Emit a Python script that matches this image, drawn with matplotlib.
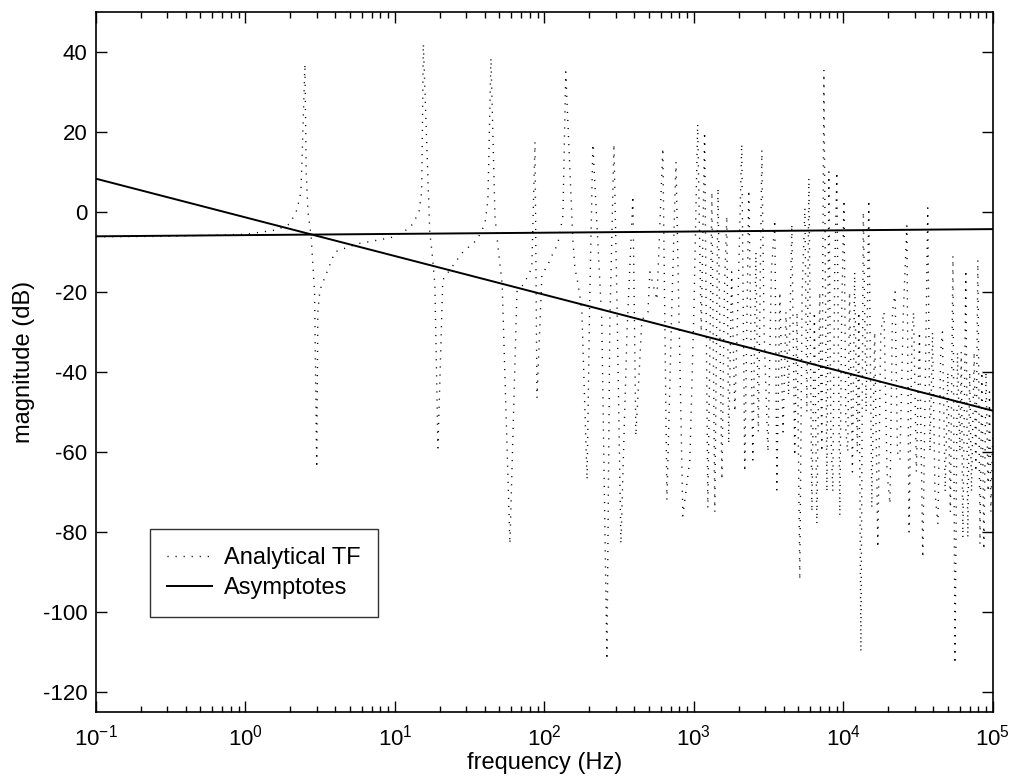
import matplotlib
matplotlib.use("Agg")
import matplotlib.pyplot as plt
from matplotlib.ticker import LogLocator, FixedLocator, NullFormatter

plt.rcParams['font.family'] = ['Liberation Sans', 'DejaVu Sans']
plt.rcParams['axes.unicode_minus'] = False
plt.rcParams['mathtext.fontset'] = 'custom'
plt.rcParams['mathtext.rm'] = 'Liberation Sans'

# --- Analytical transfer function, vertices (Hz, dB) ---
tf_freq = [0.1, 0.3, 1.0, 1.62, 1.98, 2.21, 2.35, 2.40, 2.50, 2.55, 2.62, 2.75, 2.9, 3.0,
           3.05, 3.15, 3.97, 5.56, 9.26, 10.1, 12.6, 13.6, 14.5, 15.1, 15.5,
           17.1, 17.7, 18.5, 19.4, 20.9, 23.3, 28.5, 35.4, 40.0, 41.9, 43.9,
           46.7, 49.0, 52.2, 58.8, 65.5, 72.9, 82.4, 86.5, 89.2,
           96.3, 104, 112, 123, 133, 139, 155, 160, 168, 178, 193,
           201, 211, 242, 262, 274, 292, 306, 325, 357, 391, 409, 449, 493, 508, 566,
           620, 660, 714, 759, 844,
           940, 1000, 1060, 1120, 1180, 1240, 1320, 1380, 1450, 1500, 1540, 1600,
           1660, 1710, 1790, 1880, 1980, 2090, 2190, 2330, 2480, 2600, 2700, 2850,
           2950, 3130, 3300, 3480, 3590, 3760, 3950, 4130, 4300, 4520, 4730, 4900,
           5110, 5300, 5530, 5700, 5880, 6160, 6400, 6650, 6950, 7180, 7410, 7760,
           8000, 8250, 8500, 8750, 9050, 9470, 9750, 10100, 10400, 10700, 11000,
           11500, 11900, 12400, 12700, 13100, 13600, 14200, 14800, 15500, 16200,
           17000, 17800, 18700, 19600, 20500, 21300, 22200, 23000, 23900, 25200,
           26600, 27500, 28800, 29500, 30800, 32300, 34000, 36700, 38000, 39500,
           41000, 42900, 44800, 46000, 48000, 50000, 52000, 54100, 55800, 58000,
           60200, 61500, 63000, 66000, 68000, 70000, 72000, 75000, 77000, 79400,
           82000, 84500, 87100, 90000, 93000, 95000, 97000, 100000]
tf_db = [-6.2, -6.1, -5.6, -4.5, -3, 0.5, 5, 15, 37, 10, 0, -6, -20, -64,
         -25, -19.5, -10, -8, -6.5, -6, -4, -2, 0, 5, 42,
         -5, -10, -18, -59, -17, -14.5, -10, -7, -3, 3, 38.5,
         -1, -9, -18, -83, -20, -18, -14, 17.5, -46.5,
         -15.5, -13.7, -11, -8, -1, 35, -7, -14, -18, -24.5, -67,
         -22, 17, -27, -112, -28, 17, -23, -83, -30, 4, -56, -27, -25, -15, -22,
         16, -72, -22, 12.5, -76,
         -62, -25, 22, -30, 20, -74, 5, -75, 6, -35, -67, -20,
         -1, -58, -15, -50, -20, 17, -65, 5.5, -62, -10, -55, 15.5,
         -30, -60, -15, -2, -69.5, -20, -55, -25, -46, -3, -61, -25,
         -92, -20, 1, -50, 8.5, -75, -25, -78, -20, -60, 35.5, -70,
         10, -55, -70, -15, 10, -76, -25, 3, -55, -60, -20,
         -65, -15, -60, -25, -110, 0, -50, 3, -74, -30,
         -84, -30, -25, -65, -73, -25, -20, -60, -62, -25,
         -3.5, -80, -30, -25, -65, -30, -86.5, 1, -60, -30,
         -70, -78, -35, -30, -70, -40, -75, -11, -113, -35,
         -60, -35, -81.5, -14.5, -81.5, -40, -70, -35, -65, -12,
         -83, -40, -84.5, -40, -70, -45, -75, -55]

# --- Asymptotes (end points, Hz / dB) ---
asym_freq = [0.1, 1e5]
asym_flat_db = [-6.1, -4.3]
asym_slope_db = [8.3, -49.7]

# --- Axis ticks ---
x_ticks = [0.1, 1, 10, 100, 1000, 10000, 100000]
y_ticks = [-120, -100, -80, -60, -40, -20, 0, 20, 40]

fig = plt.figure(figsize=(10.1, 7.77), dpi=100)
ax = fig.add_axes([0.095, 0.0837, 0.888, 0.901])

ax.plot(tf_freq, tf_db, color='black', linewidth=1.0,
        linestyle=(0, (0.8, 5.0)), label='Analytical TF')
ax.plot(asym_freq, asym_slope_db, color='black', linewidth=1.4, label='Asymptotes')
ax.plot(asym_freq, asym_flat_db, color='black', linewidth=1.4)

ax.set_xscale('log')
ax.set_xlim(0.1, 1e5)
ax.set_ylim(-125, 50)
ax.yaxis.set_major_locator(FixedLocator(y_ticks))
ax.xaxis.set_major_locator(FixedLocator(x_ticks))
ax.xaxis.set_minor_locator(LogLocator(base=10, subs=range(2, 10), numticks=20))
ax.xaxis.set_minor_formatter(NullFormatter())

ax.tick_params(which='both', direction='in', top=True, right=True)
ax.tick_params(which='major', length=8, width=1)
ax.tick_params(which='minor', length=4, width=1)
ax.tick_params(axis='y', labelsize=16, pad=6)
ax.tick_params(axis='x', labelsize=16, pad=9)
for s in ax.spines.values():
    s.set_linewidth(1.2)

ax.set_xlabel('frequency (Hz)', fontsize=17, labelpad=1)
ax.set_ylabel('magnitude (dB)', fontsize=17, labelpad=6)

leg = ax.legend(loc='lower left', bbox_to_anchor=(0.06, 0.136), borderaxespad=0,
                fancybox=False, edgecolor='black', fontsize=17, handlelength=1.9,
                borderpad=0.75, labelspacing=0.35, handletextpad=0.5)
leg.get_frame().set_linewidth(1.0)

fig.savefig('out.png', dpi=100)
